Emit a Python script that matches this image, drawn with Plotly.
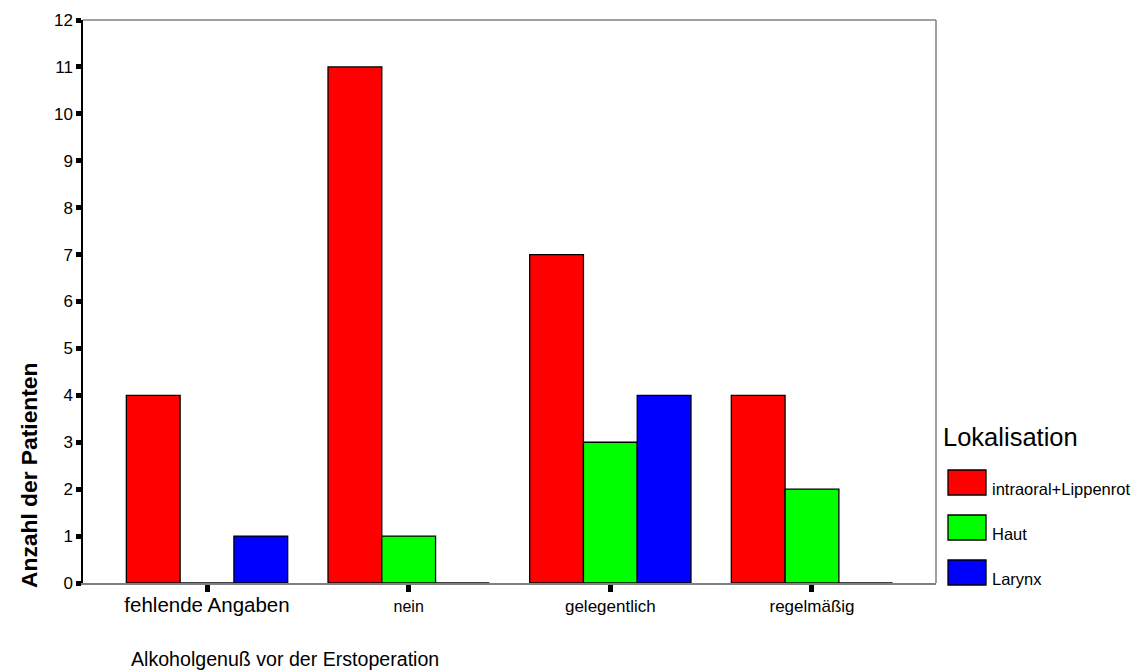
import plotly.graph_objects as go

categories = ["fehlende Angaben", "nein", "gelegentlich", "regelmäßig"]
series_names = ["intraoral+Lippenrot", "Haut", "Larynx"]
intraoral = [4, 11, 7, 4]
haut = [0, 1, 3, 2]
larynx = [1, 0, 4, 0]
y_ticks = list(range(0, 13))
x_title = "Alkoholgenuß vor der Erstoperation"
y_title = "Anzahl der Patienten"
legend_title = "Lokalisation"

colors = ["#ff0000", "#00ff00", "#0000ff"]
values = [intraoral, haut, larynx]
SANS = "Liberation Sans, Arial"
tick_sizes = [20.5, 16, 17, 17]

fig = go.Figure()
for name, vals, col in zip(series_names, values, colors):
    fig.add_trace(go.Bar(
        x=categories, y=vals, name=name,
        marker=dict(color=col, line=dict(color="#000000", width=1.3)),
        showlegend=False,
    ))

OFF = 8  # page body margin
L, R, T, B = 75, 205, 12, 89
W, H = 1133, 664
fig.update_layout(
    width=W, height=H,
    margin=dict(l=L, r=R, t=T, b=B),
    paper_bgcolor="white", plot_bgcolor="white",
    barmode="group", bargap=0.2, bargroupgap=0,
    xaxis=dict(
        type="category", range=[-0.615, 3.615], automargin=False,
        tickvals=categories,
        ticktext=['<span style="font-size:%spx">%s</span>' % (s, c)
                  for s, c in zip(tick_sizes, categories)],
        showline=True, linecolor="#808080", linewidth=1.5,
        ticks="outside", ticklen=7, tickwidth=5, tickcolor="#000000",
        tickfont=dict(family=SANS, size=17, color="#000000"),
        showgrid=False, zeroline=False,
    ),
    yaxis=dict(
        range=[0, 12], tickvals=y_ticks, automargin=False,
        showline=True, linecolor="#000000", linewidth=1.5,
        ticks="outside", ticklen=5, tickwidth=5, tickcolor="#000000",
        tickfont=dict(family=SANS, size=17, color="#000000"),
        showgrid=False, zeroline=False,
    ),
    font=dict(family=SANS, color="#000000"),
)

# frame top/right
fig.add_shape(type="line", xref="paper", yref="paper", x0=0, x1=1, y0=1, y1=1,
              line=dict(color="#808080", width=1.5))
fig.add_shape(type="line", xref="paper", yref="paper", x0=1, x1=1, y0=0, y1=1,
              line=dict(color="#808080", width=1.5))

PW = W - L - R
PH = H - T - B

def px_x(px):
    return (px - OFF - L) / PW

def px_y(py):
    return (H - B - (py - OFF)) / PH

fig.add_annotation(text=x_title, xref="paper", yref="paper",
                   x=px_x(129), y=px_y(659), xanchor="left", yanchor="middle",
                   showarrow=False, font=dict(family=SANS, size=19.6, color="#000000"))
fig.add_annotation(text="<b>" + y_title + "</b>", xref="paper", yref="paper",
                   x=px_x(29), y=px_y(476), xanchor="center", yanchor="middle",
                   textangle=-90, showarrow=False,
                   font=dict(family=SANS, size=22.8, color="#000000"))

# legend
fig.add_annotation(text=legend_title, xref="paper", yref="paper",
                   x=px_x(941), y=px_y(437), xanchor="left", yanchor="middle",
                   showarrow=False, font=dict(family=SANS, size=25.5, color="#000000"))
box_tops = [470, 515, 560]
for name, col, top in zip(series_names, colors, box_tops):
    fig.add_shape(type="rect", xref="paper", yref="paper",
                  x0=px_x(948), x1=px_x(986), y0=px_y(top + 25), y1=px_y(top),
                  fillcolor=col, line=dict(color="#000000", width=1.3))
    fig.add_annotation(text=name, xref="paper", yref="paper",
                       x=px_x(990), y=px_y(top + 19), xanchor="left", yanchor="middle",
                       showarrow=False, font=dict(family=SANS, size=16.5, color="#000000"))

fig.write_html("out.html")
